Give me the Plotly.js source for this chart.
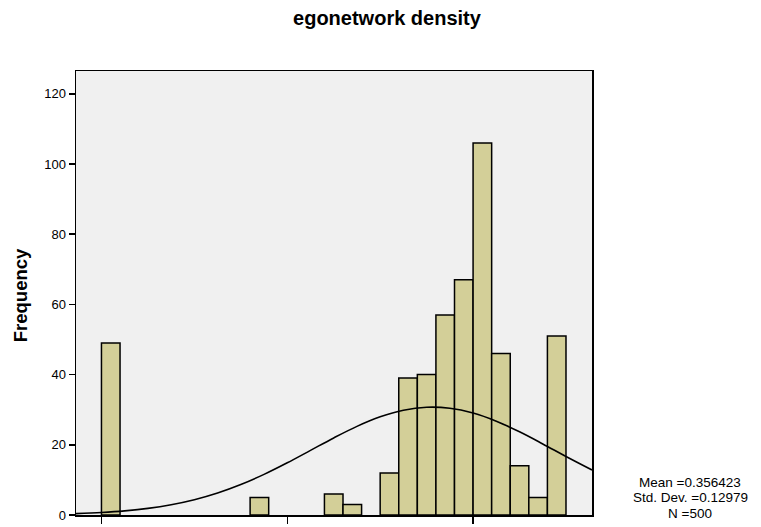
<!DOCTYPE html>
<html>
<head>
<meta charset="utf-8">
<script src="https://cdn.plot.ly/plotly-3.0.1.min.js"></script>
<style>html,body{margin:0;padding:0;background:#fff;}#chart{width:761px;height:527px;}</style>
</head>
<body>
<div id="chart"></div>
<script>
// Histogram bins (left edge of each bin) and their frequencies
const binWidth = 0.02;
const binLeft = [0.00, 0.16, 0.24, 0.26, 0.30, 0.32, 0.34, 0.36, 0.38, 0.40, 0.42, 0.44, 0.46, 0.48];
const counts  = [49,   5,    6,    3,    12,   39,   40,   57,   67,   106,  46,   14,   5,    51];

// Fitted normal curve
const curveX = [-0.0274, 0.0, 0.025, 0.05, 0.075, 0.10, 0.125, 0.15, 0.175, 0.20, 0.225, 0.25, 0.275, 0.30, 0.325, 0.35, 0.375, 0.40, 0.425, 0.45, 0.475, 0.50, 0.528];
const curveY = [0.39, 0.71, 1.18, 1.89, 2.93, 4.36, 6.27, 8.68, 11.57, 14.87, 18.41, 21.96, 25.25, 27.97, 29.85, 30.70, 30.42, 29.05, 26.73, 23.70, 20.25, 16.67, 12.83];

// Axis ticks
const xTicks = [0, 0.2, 0.4];
const yTicks = [0, 20, 40, 60, 80, 100, 120];

// Text
const titleText = "egonetwork density";
const yTitle = "Frequency";
const statsLines = ["Mean =0.356423", "Std. Dev. =0.12979", "N =500"];

const barCenters = binLeft.map(v => v + binWidth / 2);

const traces = [
  {
    type: "bar",
    x: barCenters,
    y: counts,
    width: binLeft.map(() => binWidth),
    marker: { color: "#d3cf98", line: { color: "#000000", width: 1.5 } },
    hoverinfo: "x+y"
  },
  {
    type: "scatter",
    mode: "lines",
    x: curveX,
    y: curveY,
    line: { color: "#000000", width: 1.6, shape: "spline" },
    hoverinfo: "skip"
  }
];

const statsY = [0.0732, 0.0383, 0.0034];
const annotations = statsLines.map((t, i) => ({
  text: t, xref: "paper", yref: "paper", x: 1.19, y: statsY[i],
  xanchor: "center", yanchor: "middle", showarrow: false,
  font: { family: "Liberation Sans, Arial, sans-serif", size: 13.5, color: "#000" }
}));
annotations.push({
  text: "<b>" + yTitle + "</b>", xref: "paper", yref: "paper", x: -0.1085, y: 0.495,
  xanchor: "center", yanchor: "middle", textangle: -90, showarrow: false,
  font: { family: "Liberation Sans, Arial, sans-serif", size: 18.5, color: "#000" }
});

const layout = {
  width: 761, height: 527,
  margin: { l: 76, r: 169, t: 71, b: 12, pad: 0 },
  paper_bgcolor: "#ffffff",
  plot_bgcolor: "#f0f0f0",
  showlegend: false,
  bargap: 0,
  title: {
    text: "<b>" + titleText + "</b>",
    xref: "container", yref: "container", x: 0.5085, y: 0.966,
    xanchor: "center", yanchor: "middle",
    font: { family: "Liberation Sans, Arial, sans-serif", size: 20, color: "#000" }
  },
  xaxis: {
    range: [-0.0274, 0.528],
    tickvals: xTicks,
    showticklabels: false,
    ticks: "outside", ticklen: 7, tickwidth: 1.5, tickcolor: "#000",
    showgrid: false, zeroline: false,
    showline: true, mirror: true, linecolor: "#000", linewidth: 1.5
  },
  yaxis: {
    range: [0, 126.5],
    tickvals: yTicks,
    ticks: "outside", ticklen: 6, tickwidth: 1.5, tickcolor: "#000",
    tickfont: { family: "Liberation Sans, Arial, sans-serif", size: 13, color: "#000" },
    showgrid: false, zeroline: false,
    showline: true, mirror: true, linecolor: "#000", linewidth: 1.5
  },
  annotations: annotations
};

Plotly.newPlot("chart", traces, layout, { displayModeBar: false, staticPlot: true });
</script>
</body>
</html>
